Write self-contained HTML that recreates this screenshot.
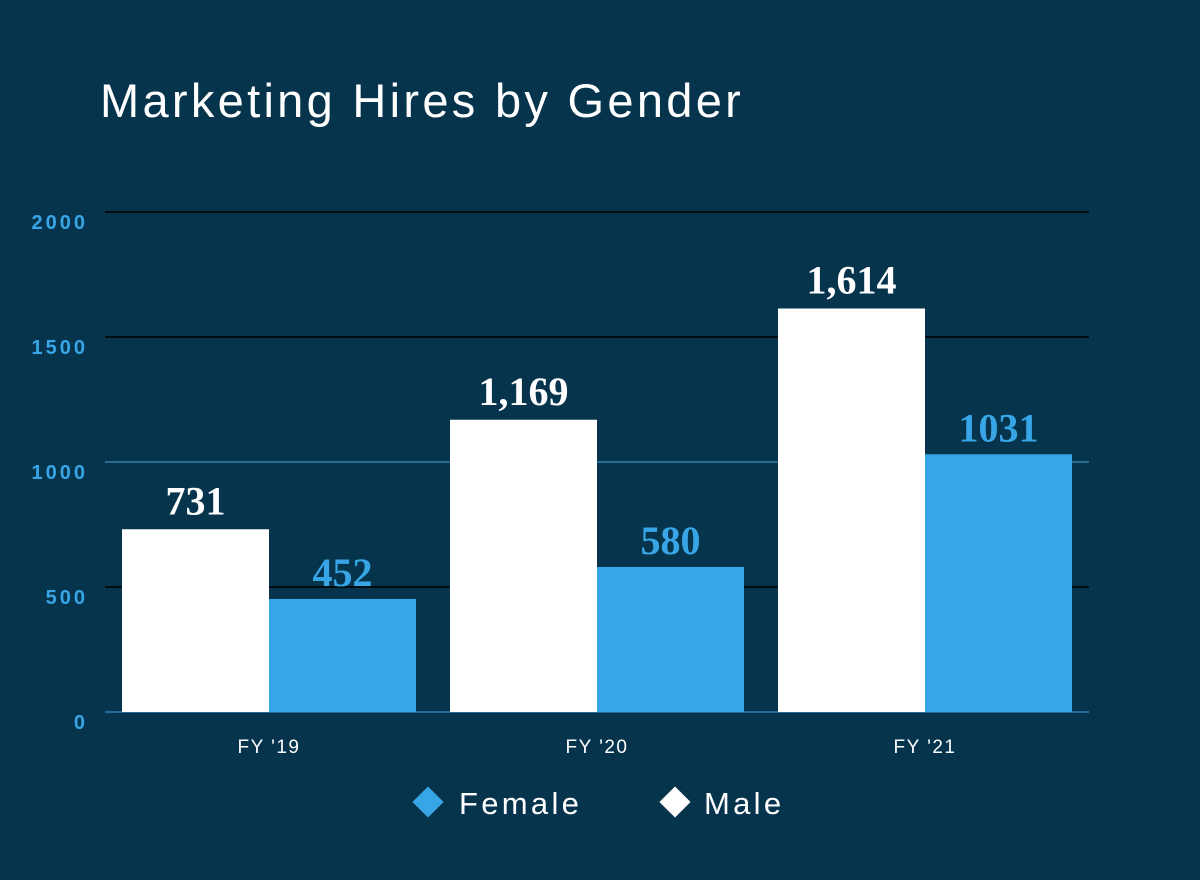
<!DOCTYPE html>
<html><head><meta charset="utf-8"><style>
html,body{margin:0;padding:0;background:#06344c;}
svg{display:block;}
</style></head><body>
<svg id="chart" width="1200" height="880" viewBox="0 0 1200 880" xmlns="http://www.w3.org/2000/svg">
<rect width="1200" height="880" fill="#06344c"/>
<text x="100" y="117" fill="#ffffff" font-family="Liberation Sans, sans-serif" font-size="47" letter-spacing="3.3">Marketing Hires by Gender</text>
<g id="grid"></g><g id="bars"></g><g id="labels"></g>
<g>
<rect x="417" y="791" width="22" height="22" fill="#38a6e6" transform="rotate(45 428 802)"/>
<text x="459" y="814" fill="#ffffff" font-family="Liberation Sans, sans-serif" font-size="31" letter-spacing="3.3">Female</text>
<rect x="664" y="791" width="22" height="22" fill="#ffffff" transform="rotate(45 675 802)"/>
<text x="704" y="814" fill="#ffffff" font-family="Liberation Sans, sans-serif" font-size="31" letter-spacing="3.3">Male</text>
</g>
</svg>
<script>
const categories = ["FY '19", "FY '20", "FY '21"];
const maleValues = [731, 1169, 1614];
const femaleValues = [452, 580, 1031];
const maleLabels = ["731", "1,169", "1,614"];
const femaleLabels = ["452", "580", "1031"];
const yTicks = [0, 500, 1000, 1500, 2000];

const NS = "http://www.w3.org/2000/svg";
const plotL = 105, plotR = 1089, y0 = 712, yTop = 212, yMax = 2000;
const band = (plotR - plotL) / categories.length;
const pad = 17, barW = (band - 2 * pad) / 2;
const y = v => y0 - (v / yMax) * (y0 - yTop);
const xCat = i => plotL + i * band;
function mk(tag, attrs, parent, text) {
  const e = document.createElementNS(NS, tag);
  for (const k in attrs) e.setAttribute(k, attrs[k]);
  if (text !== undefined) e.textContent = text;
  document.getElementById(parent).appendChild(e);
  return e;
}
yTicks.forEach((t, i) => {
  const yy = y(t);
  const g = mk("line", {x1: plotL, x2: plotR, y1: yy, y2: yy, stroke: (t === 0 || t === 1000) ? "#2f7fb0" : "#000000", "stroke-width": 1.5}, "grid");
  
  
  const l = mk("text", {x: 88, y: yy + 17, "text-anchor": "end", fill: "#38a6e6", "font-family": "Liberation Sans, sans-serif", "font-size": 20, "font-weight": "bold", "letter-spacing": "3"}, "grid", String(t));
  
  
});
categories.forEach((c, i) => {
  const xm = xCat(i) + pad, xf = xm + barW;
  const bm = mk("rect", {x: xm, y: y(maleValues[i]), width: barW, height: y0 - y(maleValues[i]), fill: "#ffffff"}, "bars");
  
  
  const bf = mk("rect", {x: xf, y: y(femaleValues[i]), width: barW, height: y0 - y(femaleValues[i]), fill: "#38a6e6"}, "bars");
  
  
  const lm = mk("text", {x: xm + barW / 2, y: y(maleValues[i]) - 15, "text-anchor": "middle", fill: "#ffffff", "font-family": "Liberation Serif, serif", "font-size": 40, "font-weight": "bold"}, "labels", maleLabels[i]);
  
  
  const lf = mk("text", {x: xf + barW / 2, y: y(femaleValues[i]) - 13, "text-anchor": "middle", fill: "#38a6e6", "font-family": "Liberation Serif, serif", "font-size": 40, "font-weight": "bold"}, "labels", femaleLabels[i]);
  
  
  const cl = mk("text", {x: xCat(i) + band / 2, y: 753, "text-anchor": "middle", fill: "#ffffff", "font-family": "Liberation Sans, sans-serif", "font-size": 19, "letter-spacing": "1.5"}, "labels", c);
  
  
});
</script>
</body></html>
